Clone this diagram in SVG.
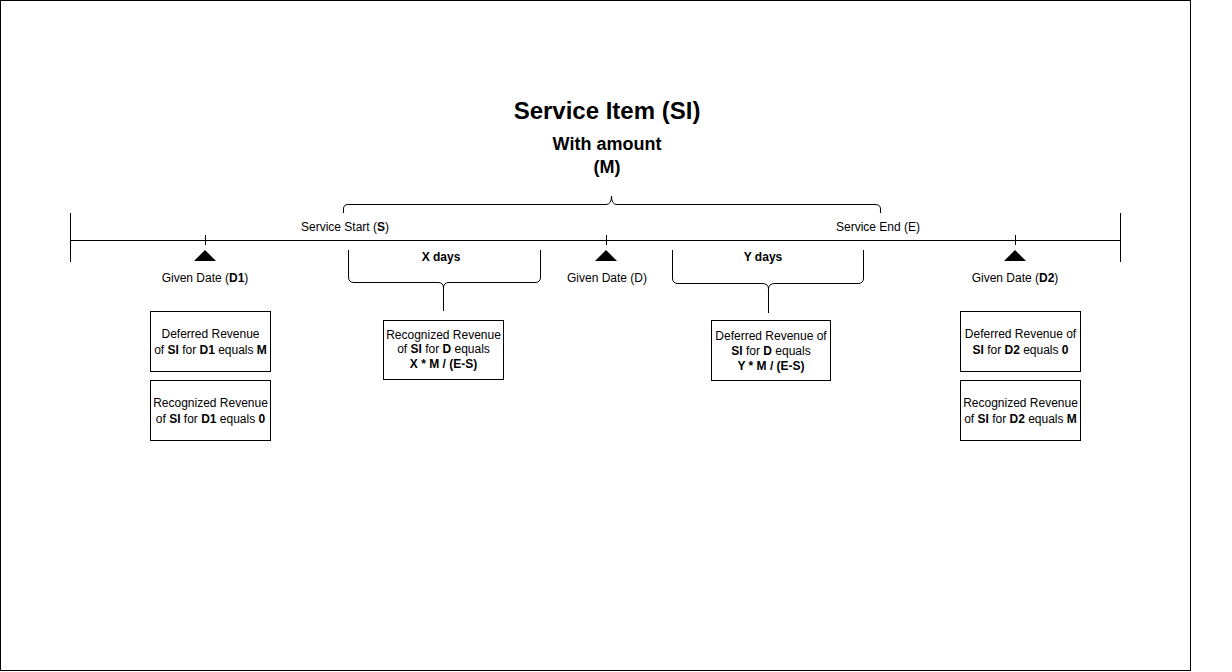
<svg xmlns="http://www.w3.org/2000/svg" width="1232" height="672" viewBox="0 0 1232 672">
<style>
text{font-family:"Liberation Sans",Arial,Helvetica,sans-serif;fill:#000;text-anchor:middle}
.t12{font-size:12px}
.b{font-weight:bold}
.ln{stroke:#000;stroke-width:1;fill:none}
.box{fill:#fff;stroke:#000;stroke-width:1}
.tri{fill:#000}
</style>
<rect x="0" y="0" width="1232" height="672" fill="#fff"/>
<rect x="0.5" y="0.5" width="1190" height="670" fill="#fff" stroke="#000" stroke-width="1"/>

<g id="title">
<text x="607" y="119" style="font-size:24px" class="b">Service Item (SI)</text>
<text x="607" y="150" style="font-size:18px" class="b">With amount</text>
<text x="607" y="173" style="font-size:18px" class="b">(M)</text>
</g>

<g id="connectors">
<path class="ln" d="M70,240.5 H1120"/>
<path class="ln" d="M70.5,213 V262"/>
<path class="ln" d="M1120.5,213 V262"/>
<path class="ln" d="M205.5,235 V245"/>
<path class="ln" d="M606.5,235 V245"/>
<path class="ln" d="M1015.5,235 V245"/>
<path class="ln" d="M343.5,213 V209 Q343.5,204.5 348,204.5 H606 Q611.5,204.5 611.5,196 Q611.5,204.5 617,204.5 H875 Q880.5,204.5 880.5,209 V213"/>
<path class="ln" d="M348.5,250 V277 Q348.5,282.5 354,282.5 H438 Q443.5,282.5 443.5,288 Q443.5,282.5 449,282.5 H535 Q540.5,282.5 540.5,277 V250"/>
<path class="ln" d="M443.5,288 V311"/>
<path class="ln" d="M672.5,250 V278 Q672.5,283.5 678,283.5 H762 Q768.5,283.5 768.5,289 Q768.5,283.5 775,283.5 H858 Q863.5,283.5 863.5,278 V250"/>
<path class="ln" d="M768.5,289 V313" stroke-width="1.5"/>
</g>

<g id="marker-d1"><polygon class="tri" points="205,250 216,261 194,261"/></g>
<g id="marker-d"><polygon class="tri" points="606,250 617,261 595,261"/></g>
<g id="marker-d2"><polygon class="tri" points="1015,250 1026,261 1004,261"/></g>

<g id="labels">
<text class="t12" x="345" y="231">Service Start (<tspan class="b">S</tspan>)</text>
<text class="t12" x="878" y="231">Service End (E)</text>
<text class="t12 b" x="441" y="261">X days</text>
<text class="t12 b" x="763" y="261">Y days</text>
<text class="t12" x="205" y="282">Given Date (<tspan class="b">D1</tspan>)</text>
<text class="t12" x="607" y="282">Given Date (D)</text>
<text class="t12" x="1015" y="282">Given Date (<tspan class="b">D2</tspan>)</text>
</g>

<g id="d1-deferred">
<rect class="box" x="150.5" y="311.5" width="120" height="60"/>
<text class="t12" x="210.5" y="338">Deferred Revenue</text>
<text class="t12" x="210.5" y="354">of <tspan class="b">SI</tspan> for <tspan class="b">D1</tspan> equals <tspan class="b">M</tspan></text>
</g>
<g id="d1-recognized">
<rect class="box" x="150.5" y="380.5" width="120" height="60"/>
<text class="t12" x="210.5" y="407">Recognized Revenue</text>
<text class="t12" x="210.5" y="423">of <tspan class="b">SI</tspan> for <tspan class="b">D1</tspan> equals <tspan class="b">0</tspan></text>
</g>
<g id="d-recognized">
<rect class="box" x="383.5" y="320.5" width="120" height="59"/>
<text class="t12" x="443.5" y="339">Recognized Revenue</text>
<text class="t12" x="443.5" y="353">of <tspan class="b">SI</tspan> for <tspan class="b">D</tspan> equals</text>
<text class="t12 b" x="443.5" y="368">X * M / (E-S)</text>
</g>
<g id="d-deferred">
<rect class="box" x="711.5" y="320.5" width="119" height="60"/>
<text class="t12" x="771" y="340">Deferred Revenue of</text>
<text class="t12" x="771" y="355"><tspan class="b">SI</tspan> for <tspan class="b">D</tspan> equals</text>
<text class="t12 b" x="771" y="370">Y * M / (E-S)</text>
</g>
<g id="d2-deferred">
<rect class="box" x="960.5" y="311.5" width="120" height="60"/>
<text class="t12" x="1020.5" y="338">Deferred Revenue of</text>
<text class="t12" x="1020.5" y="354"><tspan class="b">SI</tspan> for <tspan class="b">D2</tspan> equals <tspan class="b">0</tspan></text>
</g>
<g id="d2-recognized">
<rect class="box" x="960.5" y="380.5" width="120" height="60"/>
<text class="t12" x="1020.5" y="407">Recognized Revenue</text>
<text class="t12" x="1020.5" y="423">of <tspan class="b">SI</tspan> for <tspan class="b">D2</tspan> equals <tspan class="b">M</tspan></text>
</g>
</svg>
